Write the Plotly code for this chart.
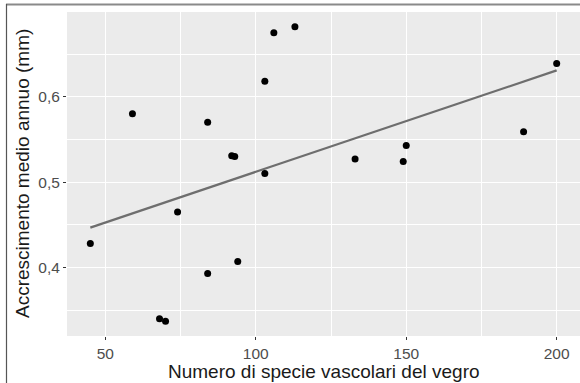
import numpy as np
import plotly.graph_objects as go

# Data
species = [45, 59, 68, 70, 74, 84, 84, 92, 93, 94, 103, 103, 106, 113, 133, 149, 150, 189, 200]
growth = [0.428, 0.580, 0.340, 0.337, 0.465, 0.570, 0.393, 0.531, 0.530, 0.407,
          0.618, 0.510, 0.675, 0.682, 0.527, 0.524, 0.543, 0.559, 0.639]
x_ticks = [50, 100, 150, 200]
y_ticks = [0.4, 0.5, 0.6]
x_title = "Numero di specie vascolari del vegro"
y_title = "Accrescimento medio annuo (mm)"

# linear regression (geom_smooth method = lm)
slope, intercept = np.polyfit(species, growth, 1)
fit_x = [min(species), max(species)]
fit_y = [intercept + slope * v for v in fit_x]

W, H = 580, 383
L, R, T, B = 67, 0, 12, 47
pw, ph = W - L - R, H - T - B

def px_to_paper_x(px):
    return (px - L) / pw

def py_to_paper_y(py):
    return (H - B - py) / ph

FONT = "Liberation Sans, Arial, sans-serif"

fig = go.Figure()
fig.add_trace(go.Scatter(x=fit_x, y=fit_y, mode="lines",
                         line=dict(color="#6e6e6e", width=2.2), hoverinfo="skip"))
fig.add_trace(go.Scatter(x=species, y=growth, mode="markers",
                         marker=dict(color="black", size=7)))

xr = [min(species) - 0.05 * (max(species) - min(species)),
      max(species) + 0.05 * (max(species) - min(species))]
yr = [min(growth) - 0.05 * (max(growth) - min(growth)),
      max(growth) + 0.05 * (max(growth) - min(growth))]

axis_common = dict(
    showgrid=True, gridcolor="white", gridwidth=1.4, zeroline=False,
    showline=False, ticks="outside", ticklen=3, tickcolor="#333333", tickwidth=1,
    tickfont=dict(family=FONT, size=15.5, color="#4D4D4D"),
)
fig.update_xaxes(range=xr, tickvals=x_ticks, minor=dict(dtick=25, tick0=25, showgrid=True,
                 gridcolor="white", gridwidth=0.6, ticks=""), **axis_common)
fig.update_yaxes(range=yr, tickvals=y_ticks, tickformat=".1f",
                 minor=dict(dtick=0.05, tick0=0.35, showgrid=True,
                 gridcolor="white", gridwidth=0.6, ticks=""), **axis_common)

fig.update_layout(
    width=W, height=H, margin=dict(l=L, r=R, t=T, b=B, pad=0),
    plot_bgcolor="#EBEBEB", paper_bgcolor="white", showlegend=False,
    separators=",.",
    annotations=[
        dict(text=x_title, xref="paper", yref="paper", x=px_to_paper_x(323.5), y=py_to_paper_y(371),
             xanchor="center", yanchor="middle", showarrow=False,
             font=dict(family=FONT, size=19, color="#1a1a1a")),
        dict(text=y_title, xref="paper", yref="paper", x=px_to_paper_x(22), y=0.5,
             xanchor="center", yanchor="middle", showarrow=False, textangle=-90,
             font=dict(family=FONT, size=19, color="#1a1a1a")),
    ],
    shapes=[
        dict(type="line", xref="paper", yref="paper",
             x0=px_to_paper_x(6), x1=px_to_paper_x(582),
             y0=py_to_paper_y(4.5), y1=py_to_paper_y(4.5),
             line=dict(color="#8a8a8a", width=2)),
        dict(type="line", xref="paper", yref="paper",
             x0=px_to_paper_x(6.5), x1=px_to_paper_x(6.5),
             y0=py_to_paper_y(4), y1=py_to_paper_y(385),
             line=dict(color="#555555", width=1.2)),
    ],
)

fig.write_html("out.html", config={"displayModeBar": False},
               post_script="document.body.style.margin='0';document.body.style.overflow='hidden';")
